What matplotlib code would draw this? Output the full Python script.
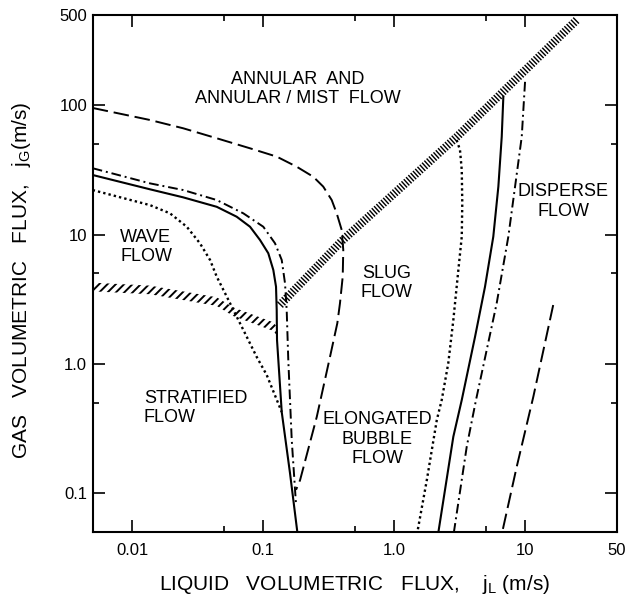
import matplotlib
matplotlib.use('Agg')
import matplotlib.pyplot as plt

plt.rcParams['font.family'] = ['Liberation Sans', 'DejaVu Sans']
plt.rcParams['mathtext.fontset'] = 'custom'
plt.rcParams['mathtext.rm'] = 'Liberation Sans'
plt.rcParams['hatch.linewidth'] = 1.4

# ---- transition lines (jL, jG in m/s)

# annular boundary (long dash), running on down as slug / elongated bubble boundary
ann_jl = [0.005, 0.01368, 0.02456, 0.0442, 0.0793, 0.1267, 0.180, 0.241, 0.287, 0.333, 0.3635,
          0.397, 0.408, 0.404, 0.385, 0.3674, 0.323, 0.256, 0.191, 0.178]
ann_jg = [95.4, 77.0, 66.4, 55.6, 46.5, 40.1, 33.5, 28.0, 23.5, 18.5, 14.6,
          10.85, 7.60, 4.72, 2.94, 2.06, 1.13, 0.388, 0.126, 0.106]

# solid line, left branch
sol_jl = [0.005, 0.01368, 0.02456, 0.0442, 0.0627, 0.0793, 0.0945, 0.1093, 0.1194, 0.1252,
          0.1267, 0.1274, 0.1384, 0.160, 0.182]
sol_jg = [28.9, 22.4, 19.4, 16.4, 13.75, 11.5, 9.08, 7.17, 5.32, 3.95,
          2.61, 1.53, 0.424, 0.143, 0.05]

# dash-dot line, left branch
dd_jl = [0.005, 0.01368, 0.02456, 0.0442, 0.0705, 0.1001, 0.123, 0.1384, 0.1466, 0.151,
         0.1527, 0.1553, 0.165, 0.178]
dd_jg = [32.6, 24.9, 22.1, 18.5, 14.6, 11.5, 8.56, 6.36, 4.20, 2.61,
         1.83, 1.07, 0.2575, 0.0809]

# dotted line, left branch
dot_jl = [0.005, 0.01368, 0.01944, 0.0261, 0.0329, 0.0393, 0.0442, 0.0527, 0.0627, 0.0705,
          0.0892, 0.1063, 0.1384]
dot_jg = [22.1, 16.9, 14.6, 11.5, 8.56, 6.36, 4.72, 3.31, 2.32, 1.83,
          1.13, 0.82, 0.424]

# hatched bands
wave_jl = [0.005, 0.01368, 0.0442, 0.0591, 0.1194, 0.1267]
wave_jg = [3.93, 3.73, 3.03, 2.53, 1.94, 1.80]
slug_jl = [0.134, 0.397, 2.99, 24.6]
slug_jg = [2.85, 8.92, 56.9, 457]

# right hand (dispersed) branches
dot2_jl = [2.99, 3.17, 3.27, 3.30, 3.27, 3.08, 2.82, 2.58, 2.30, 2.11, 1.77, 1.50]
dot2_jg = [53.9, 45.1, 31.6, 17.5, 9.63, 5.32, 2.18, 1.01, 0.525, 0.368, 0.126, 0.05]
sol2_jl = [6.79, 6.60, 6.22, 5.69, 4.92, 4.13, 3.27, 2.82, 2.17]
sol2_jg = [116.7, 57.2, 23.5, 9.63, 3.95, 1.62, 0.525, 0.273, 0.05]
dd2_jl = [9.94, 9.38, 8.34, 7.41, 6.04, 4.20, 3.57, 2.85]
dd2_jg = [152, 57.2, 23.5, 9.63, 2.94, 0.525, 0.229, 0.05]
ann2_jl = [16.3, 11.5, 8.59, 6.66]
ann2_jg = [2.85, 0.557, 0.160, 0.05]

# region names
regions = ['ANNULAR  AND\nANNULAR / MIST  FLOW', 'WAVE\nFLOW', 'STRATIFIED\nFLOW',
           'SLUG\nFLOW', 'ELONGATED\nBUBBLE\nFLOW', 'DISPERSE\nFLOW']
reg_jl = [0.184, 0.01276, 0.01231, 0.872, 0.738, 19.5]
reg_jg = [134, 8.02, 0.455, 4.22, 0.262, 18.0]
reg_ha = ['center', 'center', 'left', 'center', 'center', 'center']
reg_ma = ['center', 'left', 'left', 'center', 'center', 'center']

x_ticks = [0.01, 0.1, 1, 10, 50]
x_labels = ['0.01', '0.1', '1.0', '10', '50']
y_ticks = [0.1, 1, 10, 100, 500]
y_labels = ['0.1', '1.0', '10', '100', '500']

fig = plt.figure(figsize=(6.34, 5.97), dpi=100)
ax = fig.add_axes([0.1462, 0.1089, 0.827, 0.866])

lw = 1.4
ax.plot(ann_jl, ann_jg, color='black', lw=lw, dashes=(8, 3))
ax.plot(ann2_jl, ann2_jg, color='black', lw=lw, dashes=(8, 3))
ax.plot(sol_jl, sol_jg, color='black', lw=1.5)
ax.plot(sol2_jl, sol2_jg, color='black', lw=1.5)
ax.plot(dd_jl, dd_jg, color='black', lw=lw, dashes=(5, 2, 1, 2))
ax.plot(dd2_jl, dd2_jg, color='black', lw=lw, dashes=(5, 2, 1, 2))
ax.plot(dot_jl, dot_jg, color='black', lw=1.7, dashes=(1, 1.3))
ax.plot(dot2_jl, dot2_jg, color='black', lw=1.7, dashes=(1, 1.3))

# hatched transition bands
band = 1.08
ax.fill_between(wave_jl, [g / band for g in wave_jg], [g * band for g in wave_jg],
                facecolor='none', edgecolor='black', hatch='////', lw=0)
ax.plot(slug_jl, slug_jg, color='black', lw=6, dashes=(0.17, 0.2))

for name, x, y, ha, ma in zip(regions, reg_jl, reg_jg, reg_ha, reg_ma):
    ax.text(x, y, name, ha=ha, va='center', multialignment=ma, fontsize=13, linespacing=1.2)

ax.set_xscale('log')
ax.set_yscale('log')
ax.set_xlim(0.005, 50)
ax.set_ylim(0.05, 500)

ax.set_xticks(x_ticks)
ax.set_xticklabels(x_labels)
ax.set_xticks([0.05, 0.5, 5], minor=True)
ax.set_yticks(y_ticks)
ax.set_yticklabels(y_labels)
ax.set_yticks([0.5, 5, 50], minor=True)
ax.xaxis.set_minor_formatter(plt.NullFormatter())
ax.yaxis.set_minor_formatter(plt.NullFormatter())

ax.tick_params(which='both', direction='in', top=True, right=True, width=1.2, labelsize=12)
ax.tick_params(which='major', length=8.5)
ax.tick_params(which='minor', length=4.3)
ax.tick_params(axis='x', pad=8)
ax.tick_params(axis='y', pad=4)
for s in ax.spines.values():
    s.set_linewidth(1.5)

# Plot Configuration
ax.set_xlabel('LIQUID   VOLUMETRIC   FLUX,    j$_\\mathregular{L}$ (m/s)', fontsize=15)
ax.set_ylabel('GAS   VOLUMETRIC   FLUX,   j$_\\mathregular{G}$(m/s)', fontsize=15)
ax.xaxis.set_label_coords(0.5, -0.079)
ax.yaxis.set_label_coords(-0.114, 0.487)

fig.savefig('out.png', dpi=100)
